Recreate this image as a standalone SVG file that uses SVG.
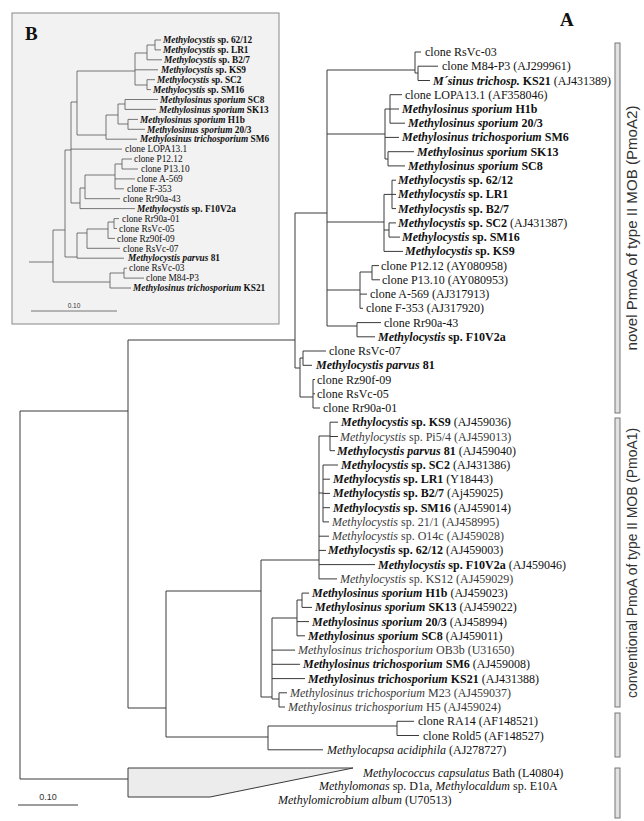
<svg xmlns="http://www.w3.org/2000/svg" width="644" height="821" viewBox="0 0 644 821">
<style>
.bg{fill:#ffffff}
.l{stroke:#3a3a3a;stroke-width:1;fill:none}
.li{stroke:#555;stroke-width:0.8;fill:none}
.t{font-family:"Liberation Serif","Times New Roman",serif;font-size:12px;fill:#111}
.ti{font-family:"Liberation Serif","Times New Roman",serif;font-size:9.3px;fill:#111}
.bi{font-weight:bold;font-style:italic}
.b{font-weight:bold}
.i{font-style:italic}
.g{fill:#3a3a3a}
.bar{fill:#e2e2e2;stroke:#777;stroke-width:1}
.side{font-family:"Liberation Sans",Arial,sans-serif;font-size:14px;fill:#333}
.sc{font-family:"Liberation Sans",Arial,sans-serif;fill:#333}
</style>
<rect class="bg" x="0" y="0" width="644" height="821"/>

<!-- Inset B -->
<g id="inset-B">
<rect x="12" y="13" width="267" height="311" fill="#f2f2f2" stroke="#888" stroke-width="1"/>
<text x="25" y="40" font-family="Liberation Serif,serif" font-size="19" font-weight="bold" fill="#111">B</text>
<g id="inset-connectors">
<path class="li" d="M29 262H53M53 230V282M53 230H65M65 150V257M65 150H71M71 102V203M71 102H77M77 71V135M77 71H135M135 53V85M135 53H147M147 45V59.8M147 45H155M155 40V49.9M155 40H161M155 49.9H161M147 59.8H162M135 69.8H158M135 85H147M147 79.7V89.6M147 79.7H155M147 89.6H151M77 135H106M106 115V139.2M106 115H118M118 104V124M118 104H125M125 99.5V109.4M125 99.5H158M125 109.4H156M118 124H128M128 119.4V129.3M128 119.4H138M128 129.3H145M106 139.2H137M71 149.1H122M71 203H80M80 188V208.6M80 188H85M85 175V198.7M85 175H115M115 164V188.8M115 164H122M122 159V169M122 159H132M122 169H138M115 178.9H135M115 188.8H124M85 198.7H120M80 208.6H135M65 257H77M77 233V258.2M77 233H87M87 229V248.3M87 229H108M108 222V238.4M108 222H114M114 218.6V228.5M114 218.6H119M114 228.5H117M108 238.4H115M87 248.3H120M77 258.2H124M53 282H110M110 273V288M110 273H124M124 268.2V278.1M124 268.2H127M124 278.1H144M110 288H131"/>
</g>
<g id="b1"><text class="ti" x="163" y="43.2"><tspan class="bi">Methylocystis</tspan><tspan class="b"> sp. 62/12</tspan></text></g>
<g id="b2"><text class="ti" x="163" y="53.1"><tspan class="bi">Methylocystis</tspan><tspan class="b"> sp. LR1</tspan></text></g>
<g id="b3"><text class="ti" x="164" y="63"><tspan class="bi">Methylocystis</tspan><tspan class="b"> sp. B2/7</tspan></text></g>
<g id="b4"><text class="ti" x="161" y="73"><tspan class="bi">Methylocystis</tspan><tspan class="b"> sp. KS9</tspan></text></g>
<g id="b5"><text class="ti" x="157" y="82.9"><tspan class="bi">Methylocystis</tspan><tspan class="b"> sp. SC2</tspan></text></g>
<g id="b6"><text class="ti" x="153" y="92.8"><tspan class="bi">Methylocystis</tspan><tspan class="b"> sp. SM16</tspan></text></g>
<g id="b7"><text class="ti" x="160" y="102.7"><tspan class="bi">Methylosinus sporium</tspan><tspan class="b"> SC8</tspan></text></g>
<g id="b8"><text class="ti" x="159" y="112.6"><tspan class="bi">Methylosinus sporium</tspan><tspan class="b"> SK13</tspan></text></g>
<g id="b9"><text class="ti" x="140" y="122.6"><tspan class="bi">Methylosinus sporium</tspan><tspan class="b"> H1b</tspan></text></g>
<g id="b10"><text class="ti" x="147" y="132.5"><tspan class="bi">Methylosinus sporium</tspan><tspan class="b"> 20/3</tspan></text></g>
<g id="b11"><text class="ti" x="140" y="142.4"><tspan class="bi">Methylosinus trichosporium</tspan><tspan class="b"> SM6</tspan></text></g>
<g id="b12"><text class="ti" x="125" y="152.3">clone LOPA13.1</text></g>
<g id="b13"><text class="ti" x="134" y="162.2">clone P12.12</text></g>
<g id="b14"><text class="ti" x="141" y="172.2">clone P13.10</text></g>
<g id="b15"><text class="ti" x="137" y="182.1">clone A-569</text></g>
<g id="b16"><text class="ti" x="127" y="192">clone F-353</text></g>
<g id="b17"><text class="ti" x="123" y="201.9">clone Rr90a-43</text></g>
<g id="b18"><text class="ti" x="137" y="211.8"><tspan class="bi">Methylocystis</tspan><tspan class="b"> sp. F10V2a</tspan></text></g>
<g id="b19"><text class="ti" x="122" y="221.8">clone Rr90a-01</text></g>
<g id="b20"><text class="ti" x="119" y="231.7">clone RsVc-05</text></g>
<g id="b21"><text class="ti" x="117" y="241.6">clone Rz90f-09</text></g>
<g id="b22"><text class="ti" x="123" y="251.5">clone RsVc-07</text></g>
<g id="b23"><text class="ti" x="128" y="261.4"><tspan class="bi">Methylocystis parvus</tspan><tspan class="b"> 81</tspan></text></g>
<g id="b24"><text class="ti" x="129" y="271.4">clone RsVc-03</text></g>
<g id="b25"><text class="ti" x="146" y="281.3">clone M84-P3</text></g>
<g id="b26"><text class="ti" x="133" y="291.2"><tspan class="bi">Methylosinus trichosporium</tspan><tspan class="b"> KS21</tspan></text></g>
<g id="inset-scale">
<path class="li" d="M31 311H117"/>
<text class="sc" x="74" y="308" font-size="6.5" text-anchor="middle">0.10</text>
</g>
</g>

<!-- Panel label -->
<text x="560" y="26" font-family="Liberation Serif,serif" font-size="19" font-weight="bold" fill="#111">A</text>

<!-- Connectors of main tree -->
<g id="connectors">
<path class="l" d="M20 411V779M20 411H128M20 779H128
M128 340V708M128 340H295M128 708H166
M295 213V368M295 213H327M295 368H300
M300 358V397M300 358H303M300 397H313
M303 351V365.3M303 351H326M303 365.3H312
M313 379.5V408M313 379.5H315M313 393.8H315M313 408H320
M327 70V326
M327 70H415M415 52V73M415 52H421M415 73H418M418 66.2V80.5M418 66.2H438M418 80.5H430
M327 134H385M385 109V159M385 109H390M390 94.7V123.2M390 94.7H402M390 109H399M390 123.2H405M385 137.4H399M385 159H388M388 151.7V165.9M388 151.7H414M388 165.9H405
M327 222H384M384 194.4V251.4M384 194.4H392M392 180.2V208.6M392 180.2H396M392 194.4H396M392 208.6H396M384 230H389M389 222.9V237.1M389 222.9H396M389 237.1H400M384 251.4H403
M327 290H360M360 272V308.3M360 272H372M372 265.6V279.8M372 265.6H379M372 279.8H380M360 294.1H367M360 308.3H363
M327 326H357M357 322.6V336.8M357 322.6H381M357 336.8H375
M166 591V737M166 591H261M166 737H268
M261 560V697M261 560H319M261 697H272
M319 436V578.9M319 436H330M330 422.2V450.7M330 422.2H338M330 436.5H338M330 450.7H335
M319 493H323M323 465V521.9M323 465H338M323 479.2H330M323 493.4H330M323 507.7H330M323 521.9H329
M319 536.2H329M319 550.4H326M319 564.6H375M319 578.9H337
M272 618V699M272 618H297M297 600V635.8M297 600H302M302 593.1V607.4M302 593.1H309M302 607.4H312M297 621.6H309M297 635.8H305
M272 650.1H295M272 664.3H300M272 678.6H305M272 699H279M279 692.8V707M279 692.8H287M279 707H285
M268 726V749.8M268 726H397M397 721.3V735.5M397 721.3H414M397 735.5H419M268 749.8H323"/>
<path d="M128 768H353L210 797H128Z" fill="#ececec" stroke="#3a3a3a" stroke-width="1"/>
</g>

<!-- Leaves: novel pmoA2 -->
<g id="n1"><text class="t" x="425" y="56">clone RsVc-03</text></g>
<g id="n2"><text class="t" x="442" y="70.2">clone M84-P3 (AJ299961)</text></g>
<g id="n3"><text class="t" x="433" y="84.5"><tspan class="bi">M´sinus trichosp.</tspan><tspan class="b"> KS21</tspan> (AJ431389)</text></g>
<g id="n4"><text class="t" x="405" y="98.7">clone LOPA13.1 (AF358046)</text></g>
<g id="n5"><text class="t" x="402" y="113"><tspan class="bi">Methylosinus sporium</tspan><tspan class="b"> H1b</tspan></text></g>
<g id="n6"><text class="t" x="408" y="127.2"><tspan class="bi">Methylosinus sporium</tspan><tspan class="b"> 20/3</tspan></text></g>
<g id="n7"><text class="t" x="402" y="141.4"><tspan class="bi">Methylosinus trichosporium</tspan><tspan class="b"> SM6</tspan></text></g>
<g id="n8"><text class="t" x="417" y="155.7"><tspan class="bi">Methylosinus sporium</tspan><tspan class="b"> SK13</tspan></text></g>
<g id="n9"><text class="t" x="408" y="169.9"><tspan class="bi">Methylosinus sporium</tspan><tspan class="b"> SC8</tspan></text></g>
<g id="n10"><text class="t" x="398" y="184.2"><tspan class="bi">Methylocystis</tspan><tspan class="b"> sp. 62/12</tspan></text></g>
<g id="n11"><text class="t" x="398" y="198.4"><tspan class="bi">Methylocystis</tspan><tspan class="b"> sp. LR1</tspan></text></g>
<g id="n12"><text class="t" x="398" y="212.6"><tspan class="bi">Methylocystis</tspan><tspan class="b"> sp. B2/7</tspan></text></g>
<g id="n13"><text class="t" x="398" y="226.9"><tspan class="bi">Methylocystis</tspan><tspan class="b"> sp. SC2</tspan> (AJ431387)</text></g>
<g id="n14"><text class="t" x="402" y="241.1"><tspan class="bi">Methylocystis</tspan><tspan class="b"> sp. SM16</tspan></text></g>
<g id="n15"><text class="t" x="405" y="255.4"><tspan class="bi">Methylocystis</tspan><tspan class="b"> sp. KS9</tspan></text></g>
<g id="n16"><text class="t" x="381" y="269.6">clone P12.12 (AY080958)</text></g>
<g id="n17"><text class="t" x="382" y="283.8">clone P13.10 (AY080953)</text></g>
<g id="n18"><text class="t" x="370" y="298.1">clone A-569 (AJ317913)</text></g>
<g id="n19"><text class="t" x="366" y="312.3">clone F-353 (AJ317920)</text></g>
<g id="n20"><text class="t" x="384" y="326.6">clone Rr90a-43</text></g>
<g id="n21"><text class="t" x="378" y="340.8"><tspan class="bi">Methylocystis</tspan><tspan class="b"> sp. F10V2a</tspan></text></g>
<g id="n22"><text class="t" x="329" y="355">clone RsVc-07</text></g>
<g id="n23"><text class="t" x="316" y="369.3"><tspan class="bi">Methylocystis parvus</tspan><tspan class="b"> 81</tspan></text></g>
<g id="n24"><text class="t" x="317" y="383.5">clone Rz90f-09</text></g>
<g id="n25"><text class="t" x="317" y="397.8">clone RsVc-05</text></g>
<g id="n26"><text class="t" x="323" y="412">clone Rr90a-01</text></g>

<!-- Leaves: conventional pmoA1 -->
<g id="c1"><text class="t" x="341" y="426.2"><tspan class="bi">Methylocystis</tspan><tspan class="b"> sp. KS9</tspan> (AJ459036)</text></g>
<g id="c2"><text class="t g" x="340" y="440.5"><tspan class="i">Methylocystis</tspan> sp. Pi5/4 (AJ459013)</text></g>
<g id="c3"><text class="t" x="337" y="454.7"><tspan class="bi">Methylocystis parvus</tspan><tspan class="b"> 81</tspan> (AJ459040)</text></g>
<g id="c4"><text class="t" x="341" y="469"><tspan class="bi">Methylocystis</tspan><tspan class="b"> sp. SC2</tspan> (AJ431386)</text></g>
<g id="c5"><text class="t" x="333" y="483.2"><tspan class="bi">Methylocystis</tspan><tspan class="b"> sp. LR1</tspan> (Y18443)</text></g>
<g id="c6"><text class="t" x="333" y="497.4"><tspan class="bi">Methylocystis</tspan><tspan class="b"> sp. B2/7</tspan> (Aj459025)</text></g>
<g id="c7"><text class="t" x="333" y="511.7"><tspan class="bi">Methylocystis</tspan><tspan class="b"> sp. SM16</tspan> (AJ459014)</text></g>
<g id="c8"><text class="t g" x="332" y="525.9"><tspan class="i">Methylocystis</tspan> sp. 21/1 (AJ458995)</text></g>
<g id="c9"><text class="t g" x="332" y="540.2"><tspan class="i">Methylocystis</tspan> sp. O14c (AJ459028)</text></g>
<g id="c10"><text class="t" x="328" y="554.4"><tspan class="bi">Methylocystis</tspan><tspan class="b"> sp. 62/12</tspan> (AJ459003)</text></g>
<g id="c11"><text class="t" x="378" y="568.6"><tspan class="bi">Methylocystis</tspan><tspan class="b"> sp. F10V2a</tspan> (AJ459046)</text></g>
<g id="c12"><text class="t g" x="340" y="582.9"><tspan class="i">Methylocystis</tspan> sp. KS12 (AJ459029)</text></g>
<g id="c13"><text class="t" x="312" y="597.1"><tspan class="bi">Methylosinus sporium</tspan><tspan class="b"> H1b</tspan> (AJ459023)</text></g>
<g id="c14"><text class="t" x="315" y="611.4"><tspan class="bi">Methylosinus sporium</tspan><tspan class="b"> SK13</tspan> (AJ459022)</text></g>
<g id="c15"><text class="t" x="312" y="625.6"><tspan class="bi">Methylosinus sporium</tspan><tspan class="b"> 20/3</tspan> (AJ458994)</text></g>
<g id="c16"><text class="t" x="308" y="639.8"><tspan class="bi">Methylosinus sporium</tspan><tspan class="b"> SC8</tspan> (AJ459011)</text></g>
<g id="c17"><text class="t g" x="298" y="654.1"><tspan class="i">Methylosinus trichosporium</tspan> OB3b (U31650)</text></g>
<g id="c18"><text class="t" x="303" y="668.3"><tspan class="bi">Methylosinus trichosporium</tspan><tspan class="b"> SM6</tspan> (AJ459008)</text></g>
<g id="c19"><text class="t" x="308" y="682.6"><tspan class="bi">Methylosinus trichosporium</tspan><tspan class="b"> KS21</tspan> (AJ431388)</text></g>
<g id="c20"><text class="t g" x="290" y="696.8"><tspan class="i">Methylosinus trichosporium</tspan> M23 (AJ459037)</text></g>
<g id="c21"><text class="t g" x="288" y="711"><tspan class="i">Methylosinus trichosporium</tspan> H5 (AJ459024)</text></g>
<g id="o1"><text class="t" x="418" y="725.3">clone RA14 (AF148521)</text></g>
<g id="o2"><text class="t" x="423" y="739.5">clone Rold5 (AF148527)</text></g>
<g id="o3"><text class="t" x="327" y="753.8"><tspan class="i">Methylocapsa acidiphila</tspan> (AJ278727)</text></g>
<g id="o4"><text class="t" x="363" y="776.5"><tspan class="i">Methylococcus capsulatus</tspan> Bath (L40804)</text></g>
<g id="o5"><text class="t" x="319" y="790.2"><tspan class="i">Methylomonas</tspan> sp. D1a, <tspan class="i">Methylocaldum</tspan> sp. E10A</text></g>
<g id="o6"><text class="t" x="278" y="803.9"><tspan class="i">Methylomicrobium album</tspan> (U70513)</text></g>

<!-- Scale bar -->
<g id="scale">
<path class="l" d="M18 805H78"/>
<text class="sc" x="48" y="800" font-size="9" text-anchor="middle">0.10</text>
</g>

<!-- Group bars -->
<g id="group-bars">
<rect class="bar" x="615" y="43" width="5" height="370"/>
<rect class="bar" x="615" y="418" width="5" height="289"/>
<rect class="bar" x="615" y="713" width="5" height="44"/>
<rect class="bar" x="615" y="768" width="5" height="50"/>
<text class="side" transform="translate(637 228) rotate(-90)" text-anchor="middle" textLength="245" lengthAdjust="spacingAndGlyphs">novel PmoA of type II MOB (PmoA2)</text>
<text class="side" transform="translate(637 563) rotate(-90)" text-anchor="middle" textLength="270" lengthAdjust="spacingAndGlyphs">conventional PmoA of type II MOB (PmoA1)</text>
</g>
</svg>
